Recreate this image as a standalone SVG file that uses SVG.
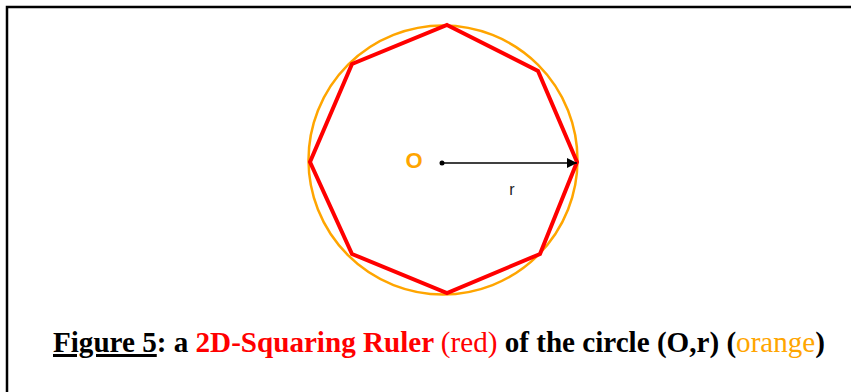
<svg xmlns="http://www.w3.org/2000/svg" width="851" height="392" viewBox="0 0 851 392">
<style>
.cap{font-family:"Liberation Serif","Times New Roman",serif;font-size:30px;font-weight:bold;fill:#000}
.reg{font-weight:normal}
</style>
<defs>
<marker id="ah" viewBox="0 0 10 10" refX="10" refY="5" markerWidth="10" markerHeight="10" markerUnits="userSpaceOnUse" orient="auto">
<path d="M0,0 L10,5 L0,10 z" fill="#000"/>
</marker>
</defs>
<rect width="851" height="392" fill="#fff"/>
<path d="M7,392 V7 H851" fill="none" stroke="#000" stroke-width="2.5"/>
<g id="circle">
<circle cx="443" cy="160" r="134.5" fill="none" stroke="#FFA500" stroke-width="2.5"/>
</g>
<g id="ruler">
<polygon points="447,25 538,71 577,162 540,254 447,293 352,254 310,162 352,64" fill="none" stroke="#FF0000" stroke-width="4" stroke-linejoin="miter"/>
</g>
<g id="center">
<circle cx="442" cy="163" r="2.5" fill="#000"/>
<text x="414" y="168" font-family="Liberation Sans,Arial,sans-serif" font-size="22" font-weight="bold" fill="#FFA500" text-anchor="middle">O</text>
</g>
<g id="connectors">
<line x1="442" y1="163" x2="577" y2="163" stroke="#000" stroke-width="1.5" marker-end="url(#ah)"/>
</g>
<g id="radius-label">
<text x="512" y="195" font-family="Liberation Sans,Arial,sans-serif" font-size="16" fill="#222" text-anchor="middle">r</text>
</g>
<g id="caption">
<text class="cap" x="53" y="352" textLength="772" lengthAdjust="spacingAndGlyphs"><tspan text-decoration="underline">Figure 5</tspan>: a <tspan fill="#FF0000">2D-Squaring Ruler </tspan><tspan fill="#FF0000" class="reg">(red)</tspan> of the circle (O,r) (<tspan fill="#FFA500" class="reg">orange</tspan>)</text>
</g>
</svg>
